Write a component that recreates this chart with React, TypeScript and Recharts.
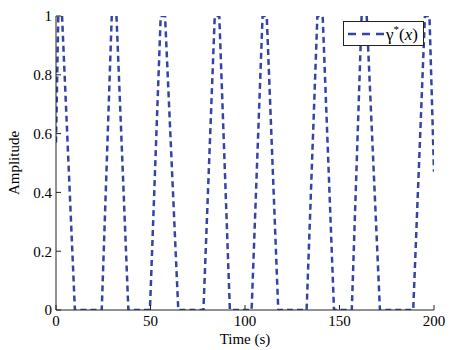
import { LineChart, Line, XAxis, YAxis, Legend } from "recharts"

// time (s) and the clipped amplitude
const timeValues = [
  0, 1.2, 3.2, 10, 24.2, 29.5, 32, 38.3, 49.7, 55.4, 57.7, 64.7, 78, 84, 86.4,
  92, 103.5, 109.3, 111.5, 117.6, 132.6, 138.3, 141.1, 147.1, 156.5, 161.7,
  164.4, 171.4, 189, 195.2, 197.6, 200,
]
const amplitudeValues = [
  0.57, 1, 1, 0, 0, 1, 1, 0, 0, 1, 1, 0, 0, 1, 1, 0, 0, 1, 1, 0, 0, 1, 1, 0, 0,
  1, 1, 0, 0, 1, 1, 0.47,
]
const xTicks = [0, 50, 100, 150, 200]
const yTicks = [0, 0.2, 0.4, 0.6, 0.8, 1]

const data = timeValues.map((t, i) => ({ time: t, gamma: amplitudeValues[i] }))

const font = "Liberation Serif, Times New Roman, Times, serif"
const axisColor = "#222"
const lineColor = "#3344a6"
const tickStyle = { fontSize: 15, fill: "#000", fontFamily: font }

function GammaLegend() {
  return (
    <div
      style={{
        width: 81,
        height: 25,
        boxSizing: "border-box",
        border: `1px solid ${axisColor}`,
        background: "#fff",
        display: "flex",
        alignItems: "center",
        fontFamily: font,
        fontSize: 17,
        color: "#000",
      }}
    >
      <svg width={38} height={10} style={{ marginLeft: 4 }}>
        <line
          x1={0}
          y1={5}
          x2={37}
          y2={5}
          stroke={lineColor}
          strokeWidth={2.5}
          strokeDasharray="8 6"
        />
      </svg>
      <span style={{ whiteSpace: "nowrap", lineHeight: 1 }}>
        γ<sup style={{ fontSize: 11, verticalAlign: 7 }}>*</sup>(<i>x</i>)
      </span>
    </div>
  )
}

export default function App() {
  return (
    <div
      style={{
        position: "absolute",
        left: 0,
        top: 0,
        background: "#fff",
        fontFamily: font,
      }}
    >
      <LineChart
        width={457}
        height={350}
        data={data}
        margin={{ top: 16, right: 23, bottom: 0, left: 0 }}
        style={{ fontFamily: font }}
      >
        <XAxis
          dataKey="time"
          type="number"
          domain={[0, 200]}
          ticks={xTicks}
          allowDataOverflow
          height={40}
          stroke={axisColor}
          tickSize={-5}
          tickMargin={10}
          tick={tickStyle}
          label={{
            value: "Time (s)",
            position: "insideBottom",
            offset: 6,
            style: { fontSize: 15, fill: "#000", fontFamily: font },
          }}
        />
        <XAxis
          xAxisId="top"
          orientation="top"
          type="number"
          domain={[0, 200]}
          ticks={xTicks}
          height={0}
          stroke={axisColor}
          tickSize={-5}
          tick={false}
        />
        <YAxis
          type="number"
          domain={[0, 1]}
          ticks={yTicks}
          allowDataOverflow
          width={56}
          stroke={axisColor}
          tickSize={-5}
          tickMargin={9}
          tick={tickStyle}
          label={{
            value: "Amplitude",
            angle: -90,
            position: "insideLeft",
            offset: 14,
            style: {
              fontSize: 15,
              fill: "#000",
              fontFamily: font,
              textAnchor: "middle",
            },
          }}
        />
        <YAxis
          yAxisId="right"
          orientation="right"
          type="number"
          domain={[0, 1]}
          ticks={yTicks}
          width={0}
          stroke={axisColor}
          tickSize={-5}
          tick={false}
        />
        <Legend
          layout="horizontal"
          verticalAlign="middle"
          align="center"
          wrapperStyle={{ left: 343, top: 21, width: 81, height: 25 }}
          content={() => <GammaLegend />}
        />
        <Line
          type="linear"
          dataKey="gamma"
          stroke={lineColor}
          strokeWidth={2.5}
          strokeDasharray="6 4"
          dot={false}
          isAnimationActive={false}
        />
      </LineChart>
    </div>
  )
}
